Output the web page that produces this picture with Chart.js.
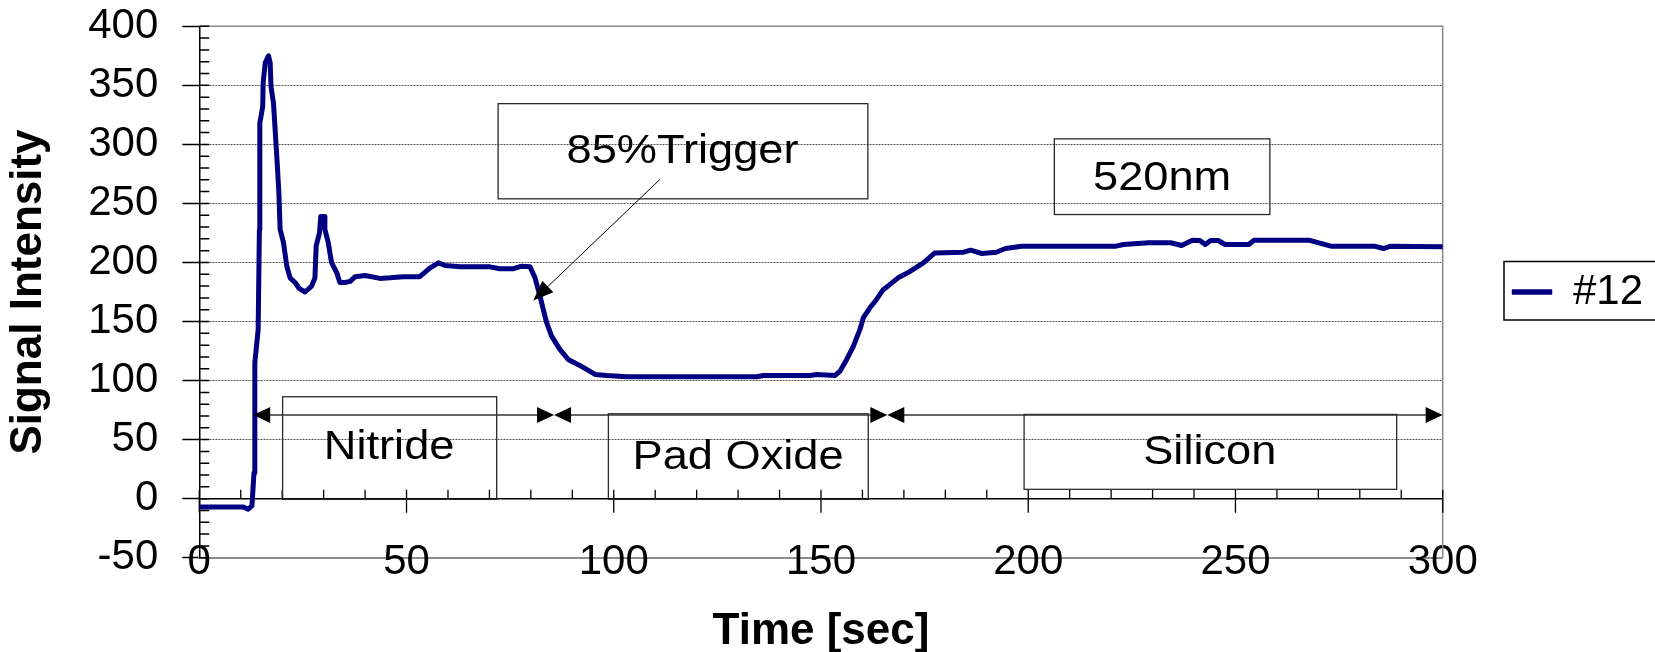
<!DOCTYPE html>
<html><head><meta charset="utf-8">
<script src="https://cdn.jsdelivr.net/npm/chart.js@4.4.1/dist/chart.umd.min.js"></script>
<style>html,body{margin:0;padding:0;background:#fff;overflow:hidden}canvas{display:block}</style>
</head><body>
<canvas id="c" width="1655" height="652"></canvas>
<script>
// ---- data ----
const seriesLabel = '#12';
const timeSec = [0.3, 5, 10.6, 11.8, 12.7, 13.2, 13.4, 14.2, 14.5, 14.6, 15.3, 15.4, 15.9, 16.7, 17.1, 17.3, 17.9, 18.8, 19.2, 19.5, 20.3, 21.1, 21.9, 23.1, 24.1, 25.5, 27.1, 27.9, 28.2, 29.0, 29.3, 30.1, 30.3, 31.1, 31.9, 33.2, 33.9, 35.2, 36.4, 37.6, 40.0, 43.6, 46.0, 49.2, 53.2, 55.7, 57.7, 59.3, 62.9, 70.1, 72.5, 75.8, 77.8, 79.8, 81.0, 82.2, 83.0, 83.8, 85.0, 87.0, 89.0, 91.8, 95.5, 98.3, 103.1, 116.0, 134.5, 136.1, 147.3, 149.0, 153.4, 154.6, 156.2, 157.8, 159.4, 160.2, 161.8, 163.4, 165.0, 166.5, 168.6, 171.2, 174.7, 177.4, 184.4, 186.1, 188.8, 192.3, 194.5, 198.4, 221.2, 223.0, 229.1, 234.4, 237.0, 239.6, 241.4, 242.7, 244.0, 245.8, 247.5, 253.2, 254.5, 267.7, 273.0, 283.5, 285.7, 287.4, 300.0];
const signal = [-7, -7, -7, -9, -6, 22, 115, 143, 228, 318, 332, 352, 369, 375, 369, 349, 335, 284, 259, 228, 217, 197, 187, 183, 178, 175, 180, 187, 214, 225, 239, 239, 228, 217, 200, 191, 183, 183, 184, 188, 189, 186.5, 187, 188, 188, 195.5, 199.7, 197.4, 196.3, 196.3, 194.7, 194.7, 196.9, 196.3, 187, 171.5, 160, 149, 137.6, 126.4, 117.9, 112.8, 105.2, 104.3, 103.2, 103.2, 103.2, 104.3, 104.3, 105.2, 104.3, 108, 117.9, 129, 143.3, 153, 161.6, 168.7, 177, 181, 187, 191.8, 199.7, 208, 208.7, 210.4, 207.6, 208.7, 211.8, 213.8, 213.8, 215.2, 216.7, 216.7, 214.4, 218.9, 218.6, 215.2, 218.6, 218.6, 215.2, 215.2, 218.9, 218.9, 213.8, 213.8, 211.8, 213.8, 213.3];
const xTicks = [0, 50, 100, 150, 200, 250, 300];
const yTicks = [-50, 0, 50, 100, 150, 200, 250, 300, 350, 400];
const xTitle = 'Time [sec]';
const yTitle = 'Signal Intensity';
const noteLabels = ['85%Trigger', '520nm', 'Nitride', 'Pad Oxide', 'Silicon'];

// ---- annotation placement (in data units) ----
const FONT = "'Liberation Sans', Arial, Helvetica, sans-serif";
const noteBoxes = [
  {x0: 72.1, x1: 161.3, y0: 253.9, y1: 334.5, tx: 116.6, ty: 296},
  {x0: 206.3, x1: 258.3, y0: 240.6, y1: 304.7, tx: 232.3, ty: 273.4},
  {x0: 20.1, x1: 71.75, y0: -0.6, y1: 86.3, tx: 45.8, ty: 45.3},
  {x0: 98.7, x1: 161.4, y0: -0.6, y1: 71.9, tx: 130, ty: 36.8},
  {x0: 199, x1: 288.9, y0: 7.9, y1: 71.3, tx: 243.8, ty: 41.7}
];
const spanArrows = [[13.0, 85.6], [85.6, 166], [166, 300]];
const spanLevel = 70.8;
const pointer = {from: [111.1, 270.2], to: [80.6, 167.9]};

function head(ctx, tx, ty, dx, dy, len, hw) {
  const bx = tx - dx * len, by = ty - dy * len;
  ctx.beginPath();
  ctx.moveTo(tx, ty);
  ctx.lineTo(bx - dy * hw, by + dx * hw);
  ctx.lineTo(bx + dy * hw, by - dx * hw);
  ctx.closePath();
  ctx.fill();
}

const decor = {
  id: 'decor',
  beforeLayout(chart) {
    const lg = chart.legend;
    if (lg && !lg._fixedW) {
      const f = lg.fit.bind(lg);
      lg.fit = function () { f(); this.width = 212.3; };
      lg._fixedW = true;
    }
  },
  beforeDatasetsDraw(chart) {
    const {ctx, chartArea: a, scales: {x, y}} = chart;
    ctx.save();
    ctx.strokeStyle = '#8a8a8a';
    ctx.lineWidth = 1.5;
    ctx.beginPath();
    ctx.moveTo(a.left, a.top); ctx.lineTo(a.right, a.top); ctx.lineTo(a.right, a.bottom);
    ctx.stroke();
    ctx.strokeStyle = '#000';
    ctx.lineWidth = 1.5;
    ctx.beginPath();
    for (let v = y.min; v <= y.max; v += 10) {
      const py = y.getPixelForValue(v);
      ctx.moveTo(a.left, py); ctx.lineTo(a.left + 10, py);
    }
    ctx.stroke();
    const y0 = y.getPixelForValue(0);
    ctx.beginPath();
    ctx.moveTo(a.left, y0); ctx.lineTo(a.right, y0);
    ctx.stroke();
    ctx.lineWidth = 1.3;
    ctx.beginPath();
    for (let t = x.min; t <= x.max; t += 10) {
      const px = x.getPixelForValue(t);
      if (t % 50 === 0) { ctx.moveTo(px, y0 - 9); ctx.lineTo(px, y0 + 14); }
      else { ctx.moveTo(px, y0 - 9); ctx.lineTo(px, y0); }
    }
    ctx.stroke();
    ctx.restore();
  },
  afterDatasetsDraw(chart) {
    const {ctx, scales: {x, y}} = chart;
    ctx.save();
    ctx.strokeStyle = '#2a2a2a';
    ctx.lineWidth = 1.3;
    ctx.fillStyle = '#000';
    ctx.font = '40px ' + FONT;
    ctx.textAlign = 'center';
    ctx.textBaseline = 'alphabetic';
    noteBoxes.forEach((b, i) => {
      const l = x.getPixelForValue(b.x0), r = x.getPixelForValue(b.x1);
      const t = y.getPixelForValue(b.y1), btm = y.getPixelForValue(b.y0);
      ctx.strokeRect(l, t, r - l, btm - t);
      const cx = x.getPixelForValue(b.tx), cy = y.getPixelForValue(b.ty);
      ctx.save();
      ctx.translate(cx, cy + 14.3);
      ctx.scale(1.13, 1);
      ctx.fillText(noteLabels[i], 0, 0);
      ctx.restore();
    });
    const sy = y.getPixelForValue(spanLevel);
    spanArrows.forEach(([s, e]) => {
      const a0 = x.getPixelForValue(s), a1 = x.getPixelForValue(e);
      ctx.strokeStyle = '#333';
      ctx.lineWidth = 1.5;
      ctx.beginPath(); ctx.moveTo(a0 + 10, sy); ctx.lineTo(a1 - 10, sy); ctx.stroke();
      ctx.fillStyle = '#000';
      head(ctx, a0, sy, -1, 0, 17, 8);
      head(ctx, a1, sy, 1, 0, 17, 8);
    });
    const fx = x.getPixelForValue(pointer.from[0]), fy = y.getPixelForValue(pointer.from[1]);
    const tx = x.getPixelForValue(pointer.to[0]), ty = y.getPixelForValue(pointer.to[1]);
    const d = Math.hypot(tx - fx, ty - fy), ux = (tx - fx) / d, uy = (ty - fy) / d;
    ctx.strokeStyle = '#000';
    ctx.lineWidth = 1;
    ctx.beginPath(); ctx.moveTo(fx, fy); ctx.lineTo(tx - ux * 12, ty - uy * 12); ctx.stroke();
    head(ctx, tx, ty, ux, uy, 20, 8);
    ctx.restore();
  },
  afterDraw(chart) {
    const lg = chart.legend;
    if (!lg || !lg.legendHitBoxes || !lg.legendHitBoxes.length) return;
    const hb = lg.legendHitBoxes[0];
    const {ctx} = chart;
    ctx.save();
    ctx.strokeStyle = '#000';
    ctx.lineWidth = 1.5;
    const cy = hb.top + 21;
    ctx.strokeRect(hb.left - 8, cy - 30.5, 300, 58.5);
    ctx.restore();
  }
};

Chart.defaults.font.family = FONT;
Chart.defaults.color = '#000';

new Chart(document.getElementById('c'), {
  type: 'line',
  data: {
    datasets: [{
      label: seriesLabel,
      data: timeSec.map((t, i) => ({x: t, y: signal[i]})),
      borderColor: '#000080',
      backgroundColor: '#000080',
      borderWidth: 5,
      pointRadius: 0,
      tension: 0,
      borderJoinStyle: 'round',
      borderCapStyle: 'round',
      fill: false
    }]
  },
  options: {
    responsive: false,
    animation: false,
    devicePixelRatio: 1,
    layout: {padding: {top: 26.3, right: 0, bottom: 0, left: 0}},
    plugins: {
      tooltip: {enabled: false},
      legend: {
        display: true,
        position: 'right',
        fullSize: false,
        labels: {
          boxWidth: 40,
          boxHeight: 5,
          padding: 69.3,
          color: '#000',
          font: {size: 42, family: FONT, lineHeight: 1},
          generateLabels: (chart) => chart.data.datasets.map((ds, i) => ({
            text: ds.label, fillStyle: ds.borderColor, strokeStyle: ds.borderColor,
            lineWidth: 0.5, hidden: false, datasetIndex: i
          }))
        }
      }
    },
    scales: {
      x: {
        type: 'linear',
        position: 'bottom',
        min: 0, max: 300,
        afterBuildTicks: (s) => { s.ticks = xTicks.map(v => ({value: v})); },
        afterFit: (s) => { s.height = 94.3; s.paddingLeft = 0; s.paddingRight = 0; s.paddingTop = 0; s.paddingBottom = 0; },
        grid: {display: false, drawTicks: false},
        border: {display: true, color: '#8c8c8c', width: 2},
        ticks: {
          autoSkip: false, maxRotation: 0, mirror: true, padding: -30,
          font: {size: 42, family: FONT}, color: '#000'
        },
        title: {
          display: true, text: xTitle, color: '#000',
          font: {size: 44, weight: 'bold', family: FONT},
          padding: {top: 0, bottom: -6}
        }
      },
      y: {
        type: 'linear',
        position: 'left',
        min: -50, max: 400,
        afterBuildTicks: (s) => { s.ticks = yTicks.map(v => ({value: v})); },
        afterFit: (s) => { s.width = 199.3; s.paddingTop = 0; s.paddingBottom = 0; s.paddingLeft = 0; s.paddingRight = 0; },
        grid: {
          display: true,
          drawOnChartArea: true,
          drawTicks: true,
          tickLength: 17,
          tickColor: '#000',
          tickWidth: 1.5,
          lineWidth: 1,
          color: (c) => (c.tick && (c.tick.value === -50 || c.tick.value === 0 || c.tick.value === 400)) ? 'rgba(0,0,0,0)' : '#555'
        },
        border: {display: true, color: '#000', width: 1.5, dash: [2, 1]},
        ticks: {
          padding: 24,
          font: {size: 42, family: FONT}, color: '#000'
        },
        title: {
          display: true, text: yTitle, color: '#000',
          font: {size: 44, weight: 'bold', family: FONT},
          padding: {top: 2, bottom: 0}
        }
      }
    }
  },
  plugins: [decor]
});
</script>
</body></html>
